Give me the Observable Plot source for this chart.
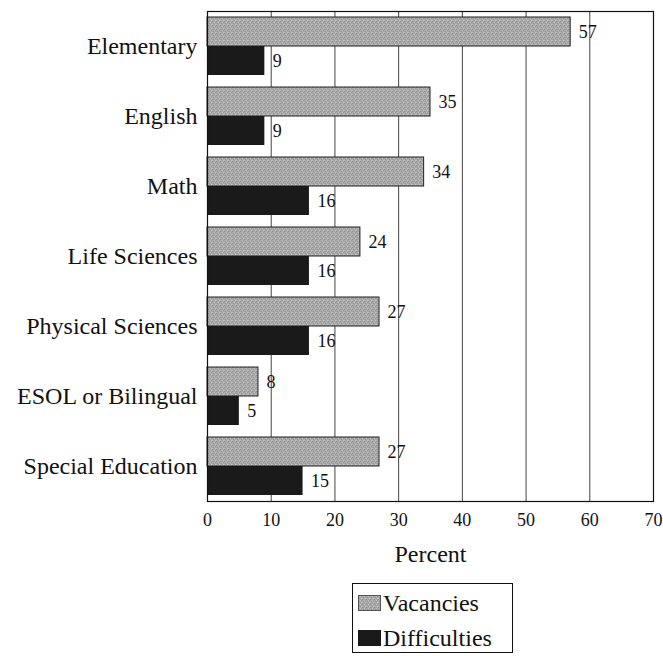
<!DOCTYPE html>
<html>
<head>
<meta charset="utf-8">
<script src="https://cdn.jsdelivr.net/npm/d3@7"></script>
<script src="https://cdn.jsdelivr.net/npm/@observablehq/plot@0.6"></script>
<style>
  body { margin: 0; background: #fff; font-family: "Liberation Serif", "Times New Roman", serif; }
  #wrap { position: relative; width: 663px; height: 656px; }
  #legend { position: absolute; left: 352px; top: 583px; width: 159px; height: 68px; border: 1px solid #111; }
  .item { position: absolute; left: 5px; display: flex; align-items: center; font-size: 24px; color: #111; line-height: 1; }
  .sw { width: 23px; height: 16px; margin-right: 2px; box-sizing: border-box; display: block; }
</style>
</head>
<body>
<div id="wrap">
  <div id="chart"></div>
  <div id="legend">
    <div class="item" style="top:7px"><svg class="sw" width="23" height="16"><rect x="0.5" y="0.5" width="22" height="15" fill="url(#stipple)" stroke="#555"></rect></svg>Vacancies</div>
    <div class="item" style="top:42px"><div class="sw" style="background:#1a1a1a"></div>Difficulties</div>
  </div>
</div>
<script>
const categories = ["Elementary", "English", "Math", "Life Sciences", "Physical Sciences", "ESOL or Bilingual", "Special Education"];
const series = ["Vacancies", "Difficulties"];
const vacancies = [57, 35, 34, 24, 27, 8, 27];
const difficulties = [9, 9, 16, 16, 16, 5, 15];
const xTicks = [0, 10, 20, 30, 40, 50, 60, 70];
const gridTicks = [10, 20, 30, 40, 50, 60];

const data = [];
categories.forEach((c, i) => {
  data.push({category: c, series: "Vacancies", value: vacancies[i]});
  data.push({category: c, series: "Difficulties", value: difficulties[i]});
});

const chart = Plot.plot({
  width: 663,
  height: 575,
  marginTop: 10,
  marginBottom: 73,
  marginLeft: 207,
  marginRight: 10,
  style: {fontFamily: "'Liberation Serif', 'Times New Roman', serif", fontSize: "18px", color: "#111", background: "#fff"},
  x: {domain: [0, 70], axis: null},
  y: {domain: series, paddingInner: 0, paddingOuter: 0.17, axis: null},
  fy: {domain: categories, padding: 0, axis: null},
  color: {domain: series, range: ["url(#stipple)", "#1a1a1a"]},
  marks: [
    Plot.ruleX(gridTicks, {stroke: "#444", strokeWidth: 1}),
    Plot.barX(data, {fy: "category", y: "series", x: "value", fill: "series", stroke: d => d.series === "Vacancies" ? "#222" : "none", strokeWidth: 1}),
    Plot.text(data, {fy: "category", y: "series", x: "value", text: d => String(d.value), dx: 8, textAnchor: "start", fontSize: 18, fill: "#111"}),
    Plot.frame({facet: "super", stroke: "#111", strokeWidth: 1.2}),
    Plot.axisX({ticks: xTicks, tickSize: 0, tickPadding: 12, fontSize: 18, label: null, tickFormat: d => String(d)}),
    Plot.axisX({ticks: [], tickSize: 0, label: "Percent", labelAnchor: "center", labelArrow: "none", labelOffset: 60, fontSize: 24}),
    Plot.axisFy({anchor: "left", tickSize: 0, tickPadding: 10, fontSize: 24, label: null})
  ]
});

// stipple pattern for the Vacancies bars
const ns = "http://www.w3.org/2000/svg";
const svg = chart.tagName.toLowerCase() === "svg" ? chart : chart.querySelector("svg");
const defs = document.createElementNS(ns, "defs");
const pat = document.createElementNS(ns, "pattern");
pat.setAttribute("id", "stipple");
pat.setAttribute("width", "4");
pat.setAttribute("height", "4");
pat.setAttribute("patternUnits", "userSpaceOnUse");
const bg = document.createElementNS(ns, "rect");
bg.setAttribute("width", "4"); bg.setAttribute("height", "4"); bg.setAttribute("fill", "#a9a9a9");
pat.appendChild(bg);
[[0,0,"#8a8a8a"],[2,1,"#c4c4c4"],[1,2,"#959595"],[3,3,"#c8c8c8"],[3,1,"#979797"],[0,3,"#bcbcbc"],[2,3,"#9c9c9c"]].forEach(([x,y,c]) => {
  const r = document.createElementNS(ns, "rect");
  r.setAttribute("x", x); r.setAttribute("y", y); r.setAttribute("width", "1"); r.setAttribute("height", "1"); r.setAttribute("fill", c);
  pat.appendChild(r);
});
defs.appendChild(pat);
svg.insertBefore(defs, svg.firstChild);

document.getElementById("chart").appendChild(chart);
</script>
</body>
</html>
